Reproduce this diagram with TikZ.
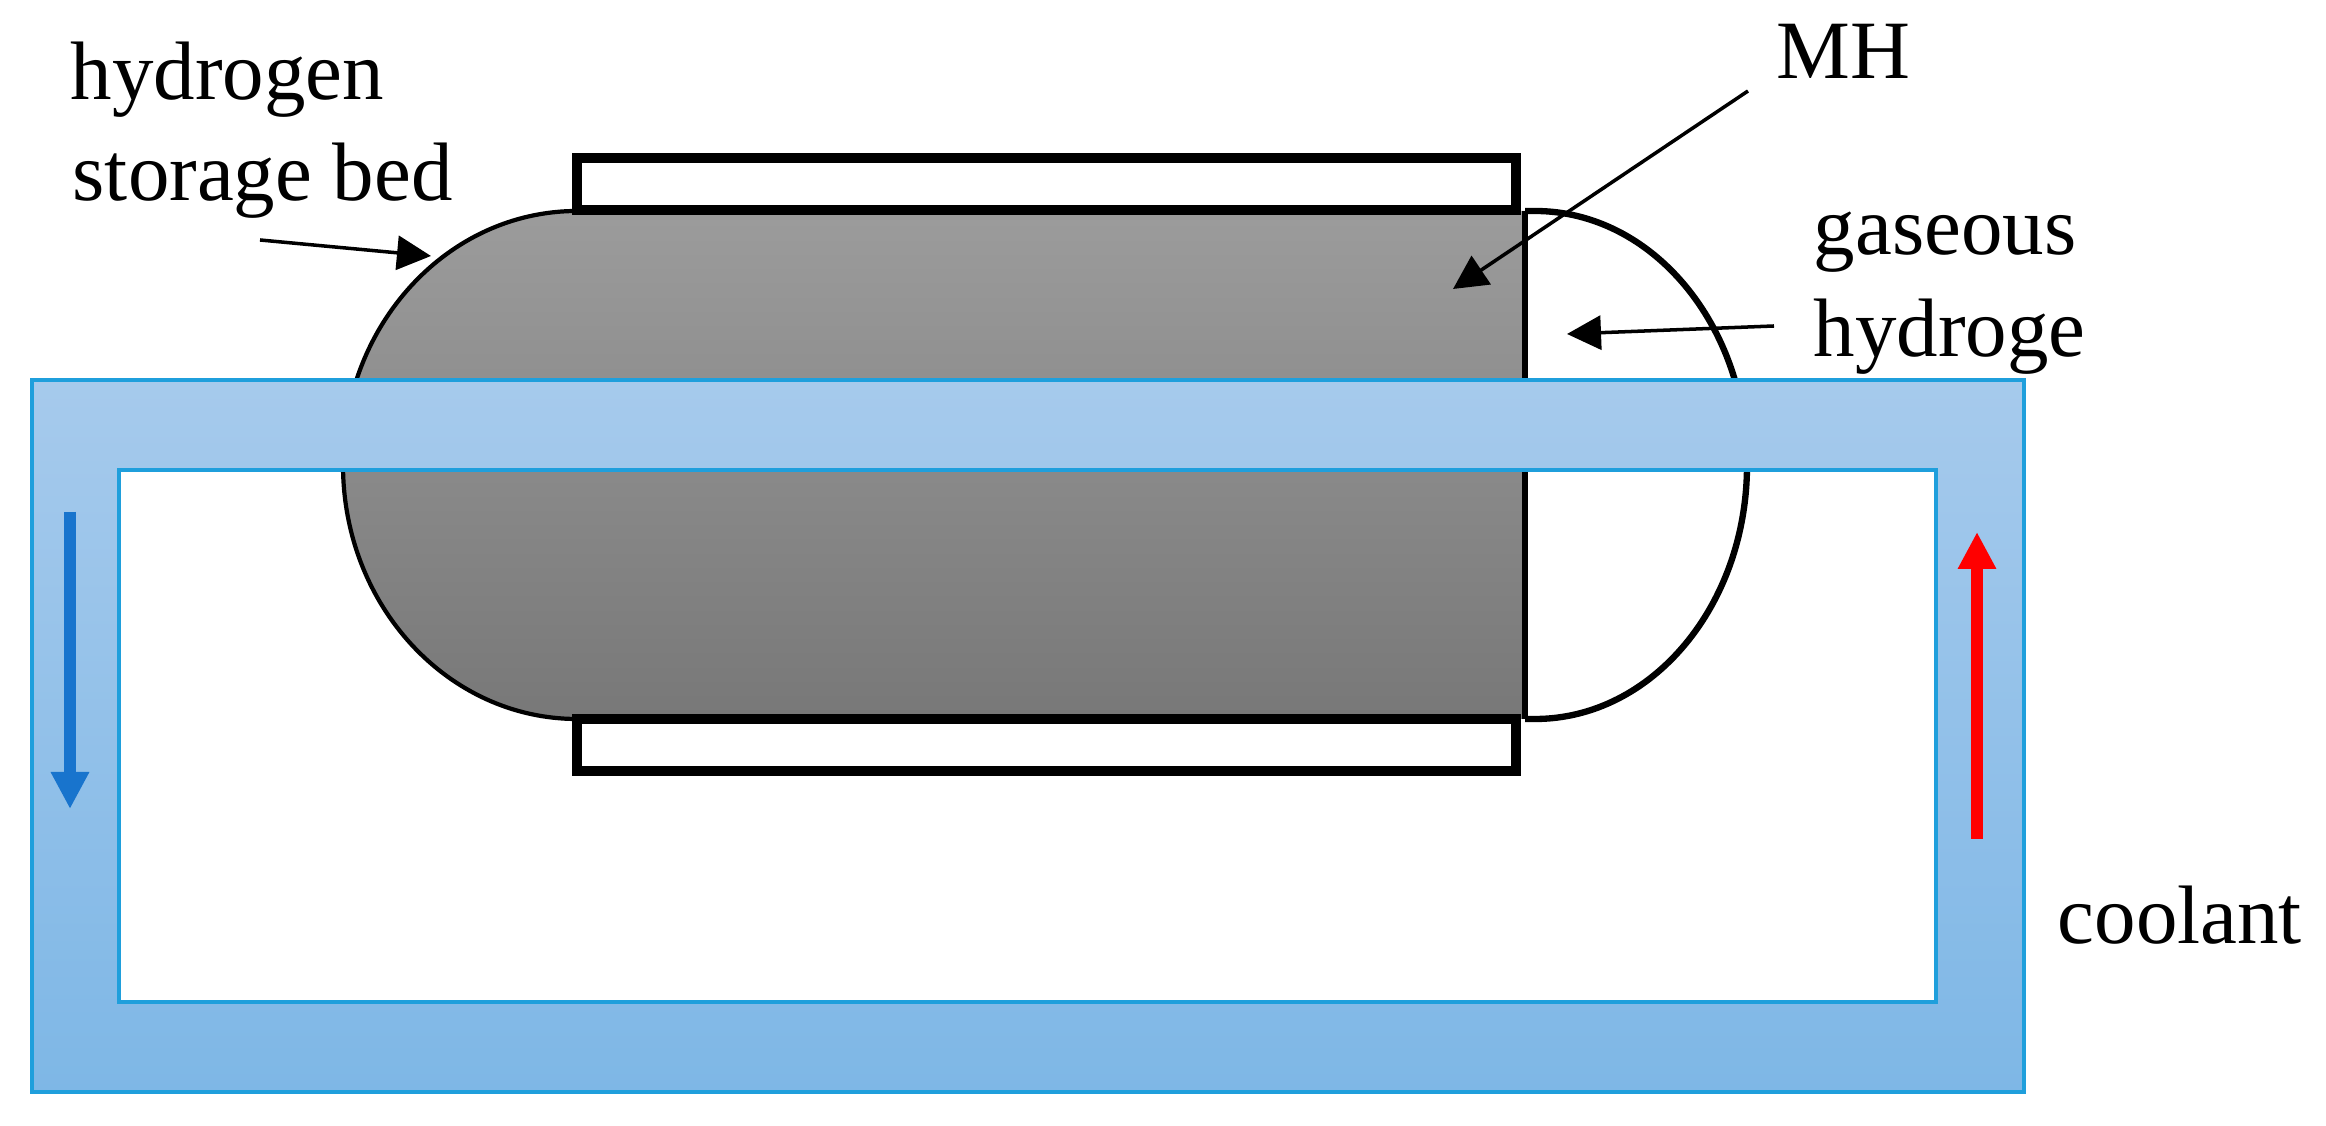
\documentclass[tikz,border=0pt]{standalone}
\usepackage{fontspec}
\setmainfont{Liberation Serif}
\usepackage{tikz}
\usetikzlibrary{arrows.meta}
\definecolor{framefill top}{HTML}{A6CAEC}
\definecolor{framefill bottom}{HTML}{7EB7E6}
\definecolor{frameline}{HTML}{1F9FDC}
\definecolor{coldflow}{HTML}{1874CD}
\begin{document}
\begin{tikzpicture}[>=stealth,
	tag/.style={anchor=base west,inner sep=0pt,font=\fontsize{23.6}{28}\selectfont},
	pointer/.style={-{Triangle[length=3.4mm,width=3.4mm]},line width=1pt},
	jacket/.style={draw=black,fill=white,line width=2.7pt},
	flow/.style={-{Triangle[length=3.7mm,width=3.6mm]},line width=3.6pt}]
	\useasboundingbox (0,0) rectangle (23.26,11.26);

	% Draw the metal hydride body with its rounded left end
	\shade[top color=black!39,bottom color=black!53] (5.77,9.15) arc[start angle=90,end angle=270,x radius=2.34,y radius=2.54] -- (15.25,4.07) -- (15.25,9.15) -- cycle;
	\draw[line width=1.2pt] (5.77,4.07) arc[start angle=270,end angle=90,x radius=2.34,y radius=2.54];

	% Draw the gas space on the right
	\draw[line width=1.5pt] (15.25,9.15) -- (15.25,4.07);
	\draw[line width=1.8pt] (15.25,9.15) -- (15.35,9.15) arc[start angle=90,end angle=-90,x radius=2.12,y radius=2.54] -- (15.25,4.07);

	% Draw the upper and lower jackets
	\draw[jacket] (5.77,9.68) rectangle (15.16,9.16);
	\draw[jacket] (5.77,4.07) rectangle (15.16,3.55);

	% Draw the coolant frame
	\shade[even odd rule,top color=framefill top,bottom color=framefill bottom] (0.32,7.46) rectangle (20.24,0.34) (1.19,6.56) rectangle (19.36,1.24);
	\draw[frameline,line width=1.2pt] (0.32,7.46) rectangle (20.24,0.34);
	\draw[frameline,line width=1.2pt] (1.19,6.56) rectangle (19.36,1.24);

	% Place the labels
	\node[tag] (bedtop) at (0.70,10.26) {hydrogen};
	\node[tag] (bedbottom) at (0.72,9.25) {storage bed};
	\node[tag] (mh) at (17.76,10.47) {MH};
	\node[tag] (gastop) at (18.13,8.71) {gaseous};
	\node[tag] (gasbottom) at (18.13,7.69) {hydroge};
	\node[tag] (coolant) at (20.57,1.82) {coolant};

	% Draw the label arrows
	\coordinate (bedfrom) at (2.60,8.86);
	\coordinate (bedto) at (4.31,8.70);
	\coordinate (mhfrom) at (17.48,10.35);
	\coordinate (mhto) at (14.53,8.37);
	\coordinate (gasfrom) at (17.74,8.00);
	\coordinate (gasto) at (15.67,7.92);
	\draw[pointer] (bedfrom) -- (bedto);
	\draw[pointer] (mhfrom) -- (mhto);
	\draw[pointer] (gasfrom) -- (gasto);

	% Draw the flow arrows
	\coordinate (coldfrom) at (0.70,6.14);
	\coordinate (coldto) at (0.70,3.17);
	\coordinate (hotfrom) at (19.77,2.87);
	\coordinate (hotto) at (19.77,5.94);
	\draw[flow,coldflow] (coldfrom) -- (coldto);
	\draw[flow,red] (hotfrom) -- (hotto);
\end{tikzpicture}
\end{document}
